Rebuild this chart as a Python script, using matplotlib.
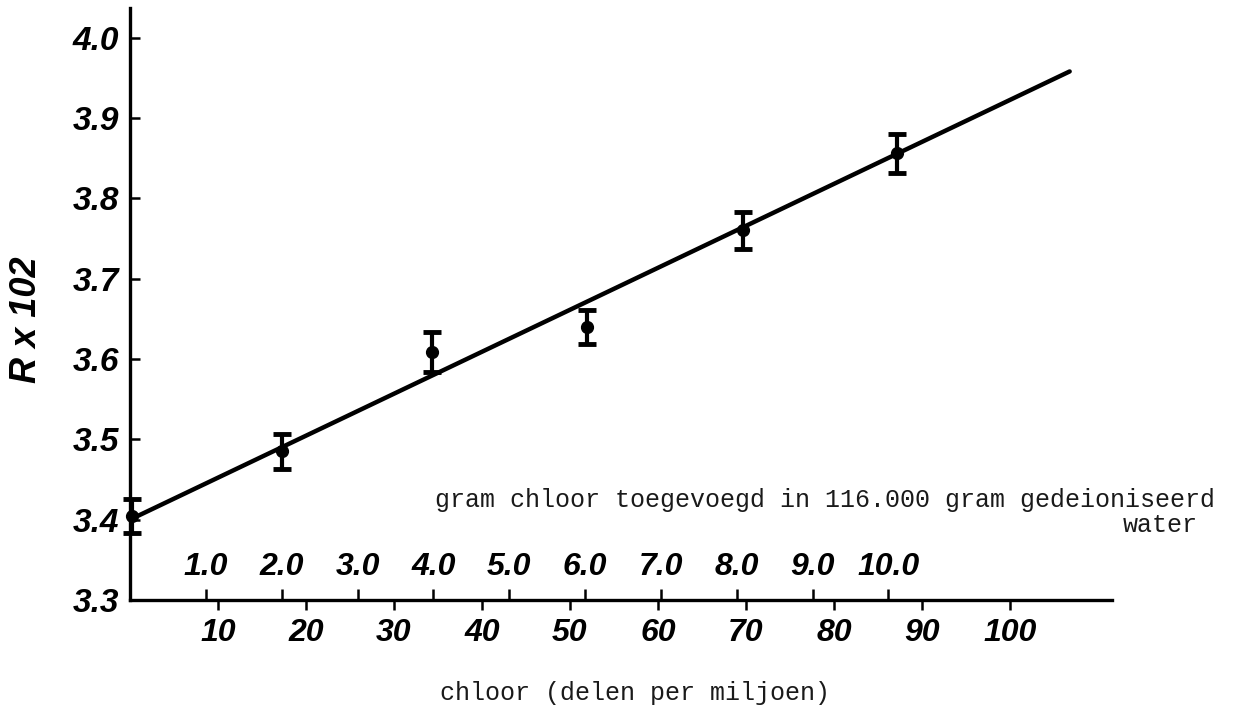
import matplotlib
matplotlib.use("Agg")
import matplotlib.pyplot as plt

# meetpunten: chloor (ppm) tegen R x 10^2, met foutmarge
ppm = [0.2, 17.3, 34.3, 52.0, 69.7, 87.2]
r_vals = [3.405, 3.485, 3.609, 3.640, 3.760, 3.856]
r_err = [0.021, 0.022, 0.025, 0.021, 0.023, 0.024]

line_x = [0.0, 106.8]
line_y = [3.400, 3.958]

ppm_ticks = [10, 20, 30, 40, 50, 60, 70, 80, 90, 100]
gram_ticks = [1.0, 2.0, 3.0, 4.0, 5.0, 6.0, 7.0, 8.0, 9.0, 10.0]
y_ticks = [3.3, 3.4, 3.5, 3.6, 3.7, 3.8, 3.9, 4.0]
water_mass = 116000.0  # gram gedeioniseerd water

plt.rcParams["font.family"] = ["Liberation Sans", "DejaVu Sans"]
plt.rcParams["font.style"] = "italic"
plt.rcParams["font.weight"] = "bold"
mono = dict(family=["Liberation Mono", "DejaVu Sans Mono"], style="normal",
            weight="normal", fontsize=18, color="#1a1a1a")

fig = plt.figure(figsize=(12.52, 7.13), dpi=100)
ax = fig.add_axes([0.1038, 0.1585, 0.7843, 0.8303])

ax.set_xlim(0, 111.6)
ax.set_ylim(3.3, 4.037)

for side in ["top", "right"]:
    ax.spines[side].set_visible(False)
for side in ["left", "bottom"]:
    ax.spines[side].set_linewidth(2.4)

ax.plot(line_x, line_y, color="black", lw=3.2, solid_capstyle="round")

ax.errorbar(ppm, r_vals, yerr=r_err, fmt="o", color="black", ms=8.5,
            elinewidth=3, capsize=6.5, capthick=3.5, clip_on=False, zorder=3)

ax.set_yticks(y_ticks)
ax.set_yticklabels([f"{v:.1f}" for v in y_ticks])
ax.set_xticks(ppm_ticks)
ax.set_xticklabels([str(v) for v in ppm_ticks])
ax.tick_params(axis="y", direction="in", length=7, width=1.8, pad=8, labelsize=24)
ax.tick_params(axis="x", direction="out", length=7, width=1.8, pad=6, labelsize=23)

# tweede schaal: gram chloor
secax = ax.secondary_xaxis(0.0, functions=(lambda p: p * water_mass / 1e6,
                                           lambda g: g * 1e6 / water_mass))
secax.set_alignment("top")
for s in secax.spines.values():
    s.set_visible(False)
secax.set_xticks(gram_ticks)
secax.set_xticklabels([f"{v:.1f}" for v in gram_ticks])
secax.tick_params(axis="x", direction="out", length=8, width=1.8, pad=5, labelsize=23)

ax.text(34.7, 3.425, "gram chloor toegevoegd in 116.000 gram gedeioniseerd",
        ha="left", va="center", **mono)
ax.text(112.8, 3.393, "water", ha="left", va="center", **mono)

ax.text(0.514, -0.157, "chloor (delen per miljoen)", transform=ax.transAxes,
        ha="center", va="center", **mono)
ax.text(-0.105, 0.473, "R x 102", transform=ax.transAxes, rotation=90,
        ha="center", va="center", fontsize=26)

fig.savefig("out.png", dpi=100)
